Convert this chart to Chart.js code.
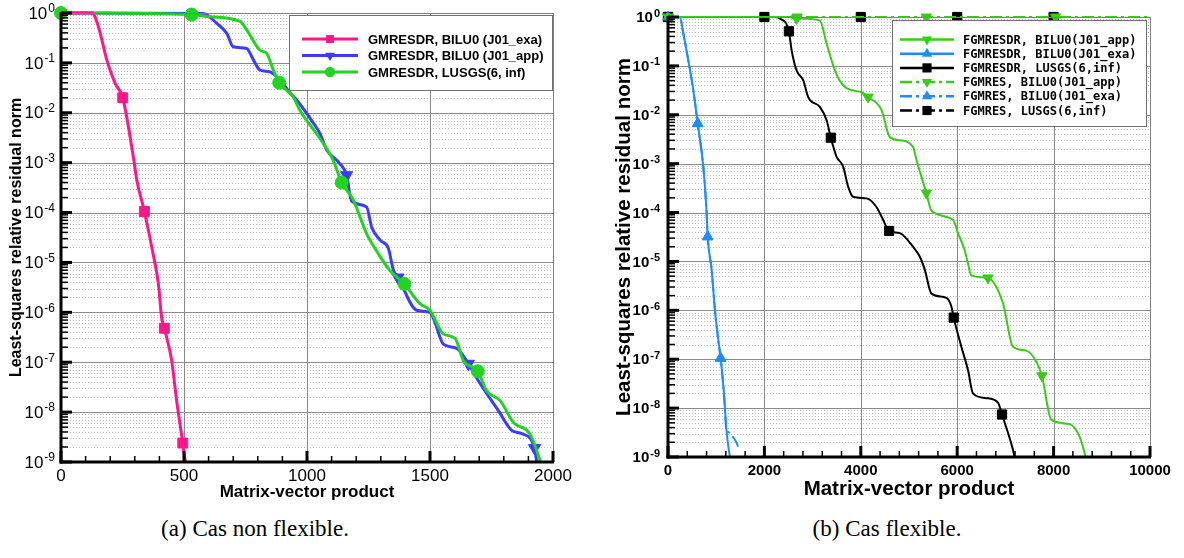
<!DOCTYPE html>
<html>
<head>
<meta charset="utf-8">
<script src="https://cdn.jsdelivr.net/npm/chart.js@4.4.1/dist/chart.umd.min.js"></script>
<style>
  body { margin: 0; background: #fff; }
  #page { position: relative; width: 1184px; height: 558px; overflow: hidden; background: #fff; }
  canvas { position: absolute; top: 0; }
  #left { left: 0; }
  #right { left: 590px; }
  .caption { position: absolute; top: 516px; font-family: "Liberation Serif", "DejaVu Serif", serif; font-size: 23px; text-align: center; color: #000; }
</style>
</head>
<body>
<div id="page">
  <canvas id="left" width="590" height="510"></canvas>
  <canvas id="right" width="594" height="510"></canvas>
  <div class="caption" style="left:0;width:510px">(a) Cas non flexible.</div>
  <div class="caption" style="left:600px;width:574px">(b) Cas flexible.</div>
</div>
<script>
// axis ticks
const decades = [0, -1, -2, -3, -4, -5, -6, -7, -8, -9];
const leftXTicks = [0, 500, 1000, 1500, 2000];
const rightXTicks = [0, 2000, 4000, 6000, 8000, 10000];

// (a) GMRESDR, non flexible
const exaX = [0, 125, 138, 159, 186, 220, 251, 294, 308, 339, 372, 396, 409, 420, 450, 470, 495, 511];
const exaY = [1, 1, 0.85, 0.40, 0.115, 0.039, 0.020, 1.3e-3, 4.5e-4, 1.05e-4, 1.7e-5, 3.7e-6, 7.9e-7, 4.8e-7, 1.07e-7, 1.7e-8, 2.4e-9, 6.3e-10];
const exaMarks = [251, 339, 420, 495];

const appX = [0, 578, 633, 674, 700, 755, 782, 809, 850, 890, 931, 958, 1026, 1053, 1080, 1134, 1161, 1181, 1242, 1263, 1297, 1331, 1351, 1370, 1446, 1500, 1520, 1554, 1608, 1656, 1696, 1750, 1778, 1832, 1873, 1925, 1935];
const appY = [1, 0.98, 0.62, 0.39, 0.21, 0.195, 0.115, 0.072, 0.066, 0.045, 0.025, 0.018, 6.2e-3, 3.8e-3, 1.8e-3, 9.5e-4, 5.6e-4, 1.7e-4, 1.3e-4, 5.1e-5, 2.8e-5, 1.9e-5, 7.1e-6, 5.0e-6, 1.1e-6, 1.0e-6, 6.3e-7, 2.3e-7, 1.9e-7, 9.3e-8, 4.3e-8, 1.7e-8, 1.07e-8, 4.3e-9, 3.7e-9, 1.9e-9, 9e-10];
const appMarks = [0, 1161, 1370, 1656, 1925];

const lusX = [0, 531, 592, 728, 755, 809, 836, 863, 887, 944, 972, 1039, 1107, 1141, 1188, 1242, 1283, 1337, 1396, 1459, 1500, 1554, 1602, 1636, 1694, 1730, 1785, 1839, 1907, 1948, 1955];
const lusY = [1, 0.93, 0.85, 0.68, 0.46, 0.18, 0.155, 0.072, 0.040, 0.021, 0.011, 3.8e-3, 1.1e-3, 4.0e-4, 1.8e-4, 3.8e-5, 1.7e-5, 6.9e-6, 3.7e-6, 1.5e-6, 1.1e-6, 3.7e-7, 3.0e-7, 1.07e-7, 6.6e-8, 2.7e-8, 1.7e-8, 6.2e-9, 3.6e-9, 1.05e-9, 8e-10];
const lusMarks = [0, 531, 887, 1141, 1396, 1694];

// (b) flexible: FGMRESDR
const fAppDrX = [0, 2500, 2667, 3150, 3289, 3427, 3560, 3703, 4047, 4150, 4429, 4601, 4808, 5084, 5154, 5361, 5465, 5913, 6017, 6155, 6224, 6293, 6639, 6950, 7157, 7433, 7641, 7758, 7952, 8332, 8539, 8643, 8700];
const fAppDrY = [1, 1, 0.93, 0.85, 0.29, 0.102, 0.05, 0.035, 0.028, 0.023, 0.0126, 3.5e-3, 3.0e-3, 2.2e-3, 1.2e-3, 2.5e-4, 1.1e-4, 7.1e-5, 3.8e-5, 1.7e-5, 9.1e-6, 5.2e-6, 4.6e-6, 1.4e-6, 1.8e-7, 1.5e-7, 8.9e-8, 4.6e-8, 5.8e-9, 4.7e-9, 2.6e-9, 1.2e-9, 7e-10];
const fAppDrMarks = [0, 2667, 4150, 5361, 6639, 7758];

const fExaDrX = [0, 180, 249, 318, 421, 525, 616, 732, 802, 823, 905, 974, 1043, 1092, 1161, 1216, 1285, 1300];
const fExaDrY = [1, 1, 0.98, 0.46, 0.13, 0.032, 6.6e-3, 8.7e-4, 9.5e-5, 3.2e-5, 6.8e-6, 1.0e-6, 2.5e-7, 1.05e-7, 2.0e-8, 3.3e-9, 1.0e-9, 8e-10];
const fExaDrMarks = [0, 616, 823, 1092];

const fLusDrX = [0, 2200, 2321, 2508, 2564, 2667, 2805, 2908, 3150, 3289, 3378, 3496, 3634, 3737, 3841, 4117, 4325, 4463, 4587, 4808, 5084, 5223, 5327, 5465, 5775, 5879, 5927, 6086, 6224, 6328, 6605, 6846, 6929, 7157, 7210];
const fLusDrY = [1, 1, 0.93, 0.51, 0.21, 0.081, 0.051, 0.023, 0.0145, 7.8e-3, 3.4e-3, 1.4e-3, 8.7e-4, 3.4e-4, 2.1e-4, 1.95e-4, 1.3e-4, 7.1e-5, 4.2e-5, 3.8e-5, 2.0e-5, 1.26e-5, 6.8e-6, 2.2e-6, 1.8e-6, 1.2e-6, 7.1e-7, 1.8e-7, 6.0e-8, 2.0e-8, 1.6e-8, 1.3e-8, 7.4e-9, 1.4e-9, 8e-10];
const fLusDrMarks = [0, 2508, 3378, 4587, 5927, 6929];

// (b) flexible: FGMRES
const fAppX = [0, 2680, 5360, 8040, 10000];
const fAppY = [1, 1, 1, 1, 1];
const fAppMarks = [0, 2680, 5360, 8040];

const fExaX = [0, 180, 249, 318, 421, 525, 616, 732, 802, 823, 905, 974, 1043, 1092, 1161, 1216, 1237, 1320, 1424, 1478];
const fExaY = [1, 1, 0.98, 0.46, 0.13, 0.032, 6.6e-3, 8.7e-4, 9.5e-5, 3.2e-5, 6.8e-6, 1.0e-6, 2.5e-7, 1.05e-7, 2.0e-8, 3.3e-9, 3.3e-9, 2.8e-9, 1.95e-9, 1.4e-9];
const fExaMarks = [0, 616, 823, 1092];

const fLusX = [0, 2000, 4000, 6000, 8000, 10000];
const fLusY = [1, 1, 1, 1, 1, 1];
const fLusMarks = [0, 2000, 4000, 6000, 8000];

const pts = (xs, ys) => xs.map((x, i) => ({ x, y: ys[i] }));

function series(label, xs, ys, marks, color, style, rot, r, lw, dash) {
  return {
    label,
    data: pts(xs, ys),
    borderColor: color,
    backgroundColor: color,
    borderWidth: lw,
    borderDash: dash || [],
    pointStyle: style,
    rotation: rot,
    pointBackgroundColor: color,
    pointBorderColor: color,
    pointBorderWidth: 1,
    pointRadius: c => (c.raw && marks.includes(c.raw.x)) ? r : 0,
    pointHoverRadius: 0,
    cubicInterpolationMode: 'monotone',
    // markers may sit on the top and left edges, curves stop at the bottom axis
    clip: { left: 12, top: 12, right: 12, bottom: 0 },
    markRadius: r
  };
}

function marker(ctx, style, rot, r, x, y, color) {
  ctx.fillStyle = color;
  ctx.beginPath();
  if (style === 'circle') {
    ctx.arc(x, y, r, 0, Math.PI * 2);
  } else if (style === 'rect') {
    const s = r * Math.SQRT1_2;
    ctx.rect(x - s, y - s, 2 * s, 2 * s);
  } else {
    const d = rot === 180 ? -1 : 1;
    ctx.moveTo(x, y - d * r);
    ctx.lineTo(x + r * 0.866, y + d * r * 0.5);
    ctx.lineTo(x - r * 0.866, y + d * r * 0.5);
  }
  ctx.closePath();
  ctx.fill();
}

// grid, inward ticks, labels and boxed legend
function decorate(cfg) {
  const h = v => Math.round(v) + 0.5;
  const seg = (ctx, x0, y0, x1, y1) => { ctx.beginPath(); ctx.moveTo(x0, y0); ctx.lineTo(x1, y1); ctx.stroke(); };
  return {
    id: 'decorate',
    beforeDatasetsDraw(chart) {
      const { ctx, chartArea: a, scales: { x, y } } = chart;
      ctx.save();
      ctx.lineWidth = 1;
      ctx.strokeStyle = '#bcbcbc';
      ctx.setLineDash([1, 2]);
      decades.slice(0, -1).forEach(e => {
        for (let m = 2; m < 10; m++) {
          const py = h(y.getPixelForValue(m * Math.pow(10, e - 1)));
          seg(ctx, a.left, py, a.right, py);
        }
      });
      ctx.setLineDash([]);
      ctx.strokeStyle = '#8a8a8a';
      decades.forEach(e => {
        const py = h(y.getPixelForValue(Math.pow(10, e)));
        seg(ctx, a.left, py, a.right, py);
      });
      cfg.xTicks.forEach(t => {
        const pxx = h(x.getPixelForValue(t));
        seg(ctx, pxx, a.top, pxx, a.bottom);
      });
      ctx.restore();
    },
    afterDatasetsDraw(chart) {
      const { ctx, chartArea: a, scales: { x, y } } = chart;
      ctx.save();
      // frame
      ctx.strokeStyle = '#808080';
      ctx.lineWidth = 1;
      seg(ctx, a.left, h(a.top), a.right, h(a.top));
      seg(ctx, h(a.right), a.top, h(a.right), a.bottom);
      ctx.strokeStyle = '#000';
      ctx.lineWidth = 3;
      seg(ctx, a.left, a.top - 1, a.left, a.bottom + 1.5);
      seg(ctx, a.left - 1.5, a.bottom, a.right + 1, a.bottom);

      // y ticks
      decades.forEach(e => {
        const py = y.getPixelForValue(Math.pow(10, e));
        ctx.lineWidth = 3;
        seg(ctx, a.left, py, a.left + 11, py);
        if (e > decades[decades.length - 1]) {
          ctx.lineWidth = 1.5;
          for (let m = 2; m < 10; m++) {
            const pm = y.getPixelForValue(m * Math.pow(10, e - 1));
            seg(ctx, a.left, pm, a.left + 7, pm);
          }
        }
      });
      // x ticks
      const xt = cfg.xTicks;
      xt.forEach((t, i) => {
        const pxx = x.getPixelForValue(t);
        ctx.lineWidth = 3;
        seg(ctx, pxx, a.bottom, pxx, a.bottom - 11);
        if (i < xt.length - 1) {
          ctx.lineWidth = 1.5;
          for (let v = t + cfg.xMinor; v < xt[i + 1] - 1e-6; v += cfg.xMinor) {
            const pm = x.getPixelForValue(v);
            seg(ctx, pm, a.bottom, pm, a.bottom - 6);
          }
        }
      });

      // tick labels
      ctx.fillStyle = '#000';
      decades.forEach(e => {
        const py = y.getPixelForValue(Math.pow(10, e));
        const ex = String(e);
        ctx.font = cfg.expFont;
        const ew = ctx.measureText(ex).width;
        const right = a.left - cfg.labelGap;
        ctx.textAlign = 'right';
        ctx.textBaseline = 'top';
        ctx.fillText(ex, right, py - cfg.expRaise);
        ctx.font = cfg.tickFont;
        ctx.textBaseline = 'middle';
        ctx.fillText('10', right - ew - 1, py + 1);
      });
      ctx.font = cfg.tickFont;
      ctx.textAlign = 'center';
      ctx.textBaseline = 'top';
      xt.forEach(t => ctx.fillText(String(t), x.getPixelForValue(t), a.bottom + cfg.xLabelGap));

      // axis titles
      ctx.font = cfg.xTitleFont;
      ctx.textBaseline = 'alphabetic';
      ctx.fillText('Matrix-vector product', (a.left + a.right) / 2, cfg.xTitleY);
      ctx.save();
      ctx.font = cfg.yTitleFont;
      ctx.translate(cfg.yTitleX, (a.top + a.bottom) / 2);
      ctx.rotate(-Math.PI / 2);
      ctx.textBaseline = 'middle';
      ctx.fillText('Least-squares relative residual norm', 0, 0);
      ctx.restore();

      // legend
      const L = cfg.legend;
      ctx.fillStyle = '#fff';
      ctx.fillRect(L.x, L.y, L.w, L.h);
      ctx.strokeStyle = '#707070';
      ctx.lineWidth = 1;
      ctx.strokeRect(h(L.x), h(L.y), L.w, L.h);
      chart.data.datasets.forEach((ds, i) => {
        const ry = L.y + L.row0 + i * L.rowH;
        ctx.strokeStyle = ds.borderColor;
        ctx.lineWidth = L.lw;
        ctx.setLineDash(ds.borderDash);
        seg(ctx, L.x + L.l0, ry, L.x + L.l1, ry);
        ctx.setLineDash([]);
        marker(ctx, ds.pointStyle, ds.rotation, L.mr * ds.markRadius, L.x + (L.l0 + L.l1) / 2, ry, ds.borderColor);
        ctx.fillStyle = '#000';
        ctx.font = L.font;
        ctx.textAlign = 'left';
        ctx.textBaseline = 'middle';
        ctx.fillText(ds.label, L.x + L.tx, ry + 1);
      });
      ctx.restore();
    }
  };
}

function makeChart(id, datasets, xMax, padding, cfg) {
  return new Chart(document.getElementById(id), {
    type: 'line',
    data: { datasets },
    options: {
      responsive: false,
      animation: false,
      events: [],
      layout: { padding },
      plugins: { legend: { display: false }, tooltip: { enabled: false } },
      scales: {
        x: { type: 'linear', min: 0, max: xMax, display: false },
        y: { type: 'logarithmic', min: 1e-9, max: 1, display: false }
      }
    },
    plugins: [decorate(cfg)]
  });
}

const pink = '#ff168c', blue = '#3c3cff', green = '#22d322';
const left = [
  Object.assign(series('GMRESDR, BILU0 (J01_exa)', exaX, exaY, exaMarks, pink, 'rect', 0, 7, 3), { order: 0 }),
  Object.assign(series('GMRESDR, BILU0 (J01_app)', appX, appY, appMarks, blue, 'triangle', 180, 7, 3), { order: 2 }),
  Object.assign(series('GMRESDR, LUSGS(6, inf)', lusX, lusY, lusMarks, green, 'circle', 0, 6.5, 3), { order: 1 })
];
makeChart('left', left, 2000, { left: 61, top: 13, right: 37, bottom: 48 }, {
  xTicks: leftXTicks, xMinor: 100,
  tickFont: '17px "Liberation Sans", Arial, sans-serif',
  expFont: '12px "Liberation Sans", Arial, sans-serif',
  expRaise: 10, labelGap: 6, xLabelGap: 6,
  xTitleFont: 'bold 17px "Liberation Sans", Arial, sans-serif',
  yTitleFont: 'bold 16px "Liberation Sans", Arial, sans-serif',
  xTitleY: 497, yTitleX: 17,
  legend: { x: 289, y: 15, w: 263, h: 75, row0: 24, rowH: 16.5, l0: 13, l1: 69, tx: 79, lw: 3, mr: 0.8,
            font: 'bold 13px "Liberation Sans", Arial, sans-serif' }
});

const fGreen = '#38cc18', fBlue = '#1e8cff', dashDot = [12, 4, 3, 4];
const right = [
  series('FGMRESDR, BILU0(J01_app)', fAppDrX, fAppDrY, fAppDrMarks, fGreen, 'triangle', 180, 6, 2),
  series('FGMRESDR, BILU0(J01_exa)', fExaDrX, fExaDrY, fExaDrMarks, fBlue, 'triangle', 0, 6, 2),
  series('FGMRESDR, LUSGS(6,inf)', fLusDrX, fLusDrY, fLusDrMarks, '#000', 'rect', 0, 6.5, 2),
  series('FGMRES, BILU0(J01_app)', fAppX, fAppY, fAppMarks, fGreen, 'triangle', 180, 6, 2, dashDot),
  series('FGMRES, BILU0(J01_exa)', fExaX, fExaY, fExaMarks, fBlue, 'triangle', 0, 6, 2, dashDot),
  series('FGMRES, LUSGS(6,inf)', fLusX, fLusY, fLusMarks, '#000', 'rect', 0, 6.5, 2, dashDot)
];
makeChart('right', right, 10000, { left: 78, top: 17, right: 34, bottom: 53 }, {
  xTicks: rightXTicks, xMinor: 400,
  tickFont: 'bold 15px "Liberation Sans", Arial, sans-serif',
  expFont: 'bold 11px "Liberation Sans", Arial, sans-serif',
  expRaise: 9, labelGap: 8, xLabelGap: 6,
  xTitleFont: 'bold 20.5px "Liberation Sans", Arial, sans-serif',
  yTitleFont: 'bold 20.5px "Liberation Sans", Arial, sans-serif',
  xTitleY: 495, yTitleX: 34,
  legend: { x: 302, y: 20, w: 254, h: 106, row0: 19.5, rowH: 14.2, l0: 8, l1: 62, tx: 71, lw: 2.5, mr: 1,
            font: 'bold 12px "DejaVu Sans Mono", monospace' }
});
</script>
</body>
</html>
